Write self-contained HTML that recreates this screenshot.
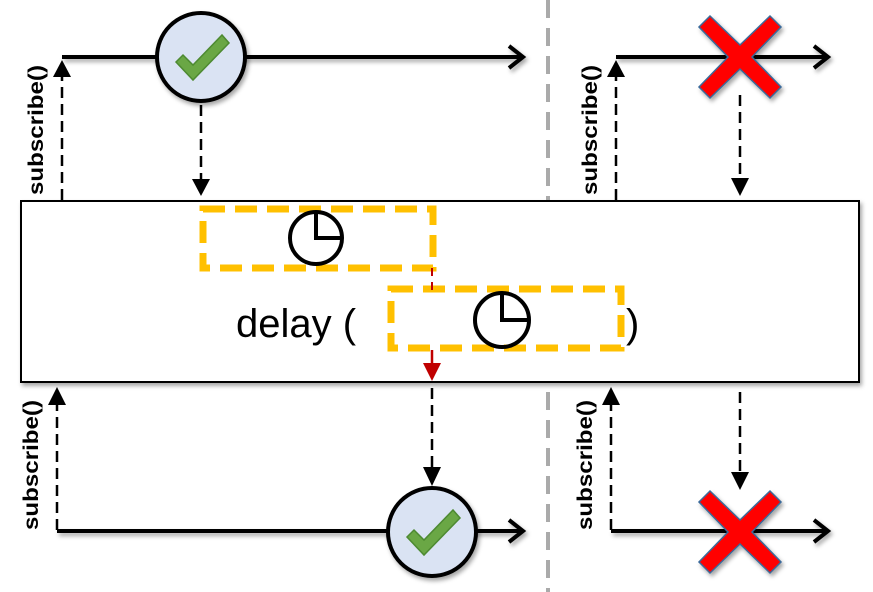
<!DOCTYPE html>
<html><head><meta charset="utf-8"><style>html,body{margin:0;padding:0;background:#fff}svg{display:block}</style></head>
<body>
<svg width="873" height="592" viewBox="0 0 873 592" xmlns="http://www.w3.org/2000/svg">
<defs>
<filter id="sh" x="-20%" y="-20%" width="140%" height="140%"><feDropShadow dx="2" dy="3" stdDeviation="2" flood-color="#000" flood-opacity="0.35"/></filter>
<g id="ok">
<circle r="44" fill="#dae3f3" stroke="#000" stroke-width="4"/>
<polygon points="-25,5 -18,-2 -8,8 21,-22 28,-14 -8,23" fill="#6aa744" stroke="#4e8a30" stroke-width="1.5"/>
</g>
<g id="x">
<polygon points="-30,-41 0,-12 30,-41 41,-30 12,0 41,30 30,41 0,12 -30,41 -41,30 -12,0 -41,-30" fill="#f00" stroke="#3a6a9a" stroke-width="1.5"/>
</g>
</defs>
<line x1="548" y1="0" x2="548" y2="592" stroke="#aaa" stroke-width="4" stroke-dasharray="18,10"/>

<g stroke="#000" fill="none">
<g stroke-width="4" filter="url(#sh)">
<line x1="62" y1="57" x2="523" y2="57"/><polyline points="509,46 523,57 509,68"/>
<line x1="616" y1="57" x2="828" y2="57"/><polyline points="814,46 828,57 814,68"/>
<line x1="57" y1="531" x2="523" y2="531"/><polyline points="509,520 523,531 509,542"/>
<line x1="611" y1="531" x2="828" y2="531"/><polyline points="814,520 828,531 814,542"/>
</g>
<g stroke-width="2.5" stroke-dasharray="11,6">
<line x1="62" y1="200" x2="62" y2="75"/>
<line x1="201" y1="105" x2="201" y2="180"/>
<line x1="616" y1="200" x2="616" y2="75"/>
<line x1="740" y1="95" x2="740" y2="178"/>
<line x1="57" y1="530" x2="57" y2="405"/>
<line x1="432" y1="388" x2="432" y2="468"/>
<line x1="611" y1="530" x2="611" y2="405"/>
<line x1="740" y1="392" x2="740" y2="472"/>
</g>
</g>
<g fill="#000">
<polygon points="62,60 53,77 71,77"/>
<polygon points="201,196 192,179 210,179"/>
<polygon points="616,60 607,77 625,77"/>
<polygon points="740,196 731,178 749,178"/>
<polygon points="57,387 48,405 66,405"/>
<polygon points="432,486 423,467 441,467"/>
<polygon points="611,387 602,405 620,405"/>
<polygon points="740,490 731,472 749,472"/>
</g>
<use href="#ok" x="201" y="57" filter="url(#sh)"/>
<use href="#ok" x="432" y="532" filter="url(#sh)"/>
<use href="#x" x="740" y="57" filter="url(#sh)"/>
<use href="#x" x="740" y="532" filter="url(#sh)"/>

<g font-family="Liberation Sans, sans-serif" font-weight="bold" font-size="21" fill="#000">
<text transform="translate(43,195) rotate(-90)" textLength="130" lengthAdjust="spacingAndGlyphs">subscribe()</text>
<text transform="translate(597,195) rotate(-90)" textLength="130" lengthAdjust="spacingAndGlyphs">subscribe()</text>
<text transform="translate(38,530) rotate(-90)" textLength="130" lengthAdjust="spacingAndGlyphs">subscribe()</text>
<text transform="translate(592,530) rotate(-90)" textLength="130" lengthAdjust="spacingAndGlyphs">subscribe()</text>
</g>

<rect x="21" y="201" width="838" height="181" fill="#fff" stroke="#000" stroke-width="2" filter="url(#sh)"/>
<g fill="none" stroke="#ffc000" stroke-width="7" stroke-dasharray="22,10">
<rect x="203" y="209" width="230" height="59"/>
<rect x="391" y="289" width="230" height="59"/>
</g>
<g fill="none" stroke="#000" stroke-width="4">
<circle cx="316" cy="238" r="26"/><polyline points="316,214 316,238 340,238"/>
<circle cx="502" cy="320" r="27"/><polyline points="502,295 502,320 527,320"/>
</g>
<line x1="432" y1="268" x2="432" y2="290" stroke="#c00000" stroke-width="2" stroke-dasharray="8,6"/>
<line x1="432" y1="350" x2="432" y2="366" stroke="#c00000" stroke-width="2.5"/>
<polygon points="432,381 423,363 441,363" fill="#c00000"/>
<g font-family="Liberation Sans, sans-serif" font-size="40" fill="#000">
<text x="236" y="337">delay (</text>
<text x="626" y="337">)</text>
</g>
</svg>
</body></html>
